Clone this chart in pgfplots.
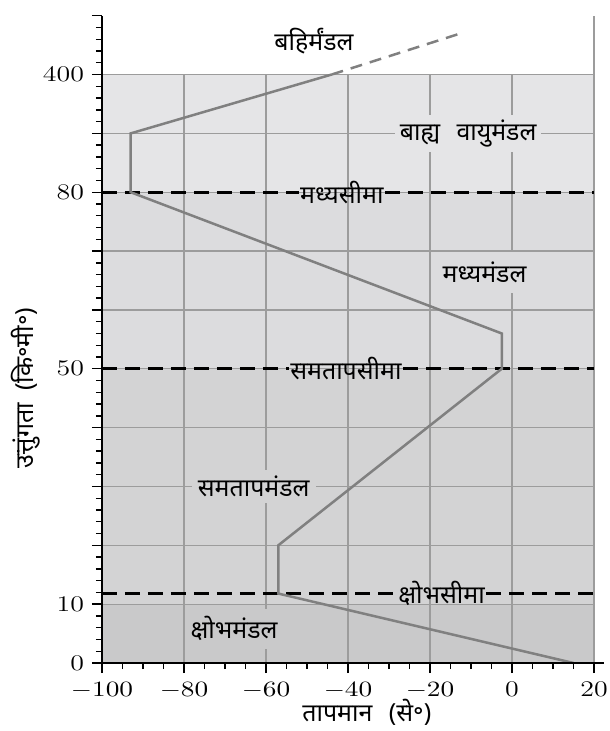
\documentclass[border=0pt]{standalone}
\usepackage{fontspec}
\usepackage{pgfplots}
\pgfplotsset{compat=1.18}
\newfontfamily\dev[Script=Devanagari]{Noto Sans}
\definecolor{bandA}{HTML}{C9C9CA}
\definecolor{bandB}{HTML}{D3D3D4}
\definecolor{bandC}{HTML}{DCDCDE}
\definecolor{bandD}{HTML}{E5E5E7}
\definecolor{gridc}{HTML}{9C9C9C}
\definecolor{linec}{HTML}{808080}
\newcommand{\dfont}{\dev\fontsize{12.5}{14}\selectfont}
\newcommand{\tl}[1]{\scalebox{1.25}[1]{#1}}
\begin{document}
\begin{tikzpicture}
\path[use as bounding box] (-51bp,-34bp) rectangle (254bp,331.5bp);
\begin{axis}[
  at={(0,0)}, anchor=south west,
  scale only axis, width=251.125bp, height=323.65bp,
  xmin=-100, xmax=22.5, ymin=0, ymax=110,
  axis x line=bottom, axis y line=left,
  axis line style={-, line width=0.7bp, black},
  xtick={-100,-80,...,20}, minor x tick num=3,
  xticklabels={\tl{$-100$},\tl{$-80$},\tl{$-60$},\tl{$-40$},\tl{$-20$},\tl{0},\tl{20}},
  ytick={0,10,...,110}, yticklabels={\tl{0},\tl{10},,,,\tl{50},,,\tl{80},,\tl{400},},
  minor y tick num=4,
  tick align=outside,
  major tick length=5bp, minor tick length=3bp,
  every tick/.style={black, line width=0.7bp},
  tick label style={font=\fontsize{11.2}{12}\selectfont},
  xticklabel style={yshift=-1bp},
  yticklabel style={xshift=-0.5bp},
  axis on top,
  clip=false,
]
% bands
\fill[bandA] (axis cs:-100,0) rectangle (axis cs:20,10);
\fill[bandB] (axis cs:-100,10) rectangle (axis cs:20,50);
\fill[bandC] (axis cs:-100,50) rectangle (axis cs:20,80);
\fill[bandD] (axis cs:-100,80) rectangle (axis cs:20,100);
% grid
\draw[gridc, line width=0.6bp] (axis cs:-100,10) -- (axis cs:20,10);
\draw[gridc, line width=0.6bp] (axis cs:-100,20) -- (axis cs:20,20);
\draw[gridc, line width=0.6bp] (axis cs:-100,30) -- (axis cs:20,30);
\draw[gridc, line width=0.6bp] (axis cs:-100,40) -- (axis cs:20,40);
\draw[gridc, line width=0.6bp] (axis cs:-100,50) -- (axis cs:20,50);
\draw[gridc, line width=0.6bp] (axis cs:-100,60) -- (axis cs:20,60);
\draw[gridc, line width=0.6bp] (axis cs:-100,70) -- (axis cs:20,70);
\draw[gridc, line width=0.6bp] (axis cs:-100,80) -- (axis cs:20,80);
\draw[gridc, line width=0.6bp] (axis cs:-100,90) -- (axis cs:20,90);
\draw[gridc, line width=0.6bp] (axis cs:-100,100) -- (axis cs:20,100);
\draw[gridc, line width=0.6bp] (axis cs:-80,0) -- (axis cs:-80,100);
\draw[gridc, line width=0.6bp] (axis cs:-60,0) -- (axis cs:-60,100);
\draw[gridc, line width=0.6bp] (axis cs:-40,0) -- (axis cs:-40,100);
\draw[gridc, line width=0.6bp] (axis cs:-20,0) -- (axis cs:-20,100);
\draw[gridc, line width=0.6bp] (axis cs:0,0) -- (axis cs:0,100);
\draw[gridc, line width=0.6bp] (axis cs:20,0) -- (axis cs:20,110);
% region labels with masks
\node[fill=bandD, inner xsep=2.5bp, inner ysep=2.5bp] at (axis cs:-10.7,90) {\dfont बाह्य\hspace{5bp} वायुमंडल};
\node[fill=bandC, inner xsep=4bp, inner ysep=5bp] at (axis cs:-6.7,66.4) {\dfont मध्यमंडल};
\node[fill=bandB, inner xsep=3bp, inner ysep=3bp] at (axis cs:-63,30) {\dfont समतापमंडल};
\node[fill=bandA, inner xsep=3bp, inner ysep=4bp] at (axis cs:-67.8,5.8) {\dfont क्षोभमंडल};
\node at (axis cs:-48.3,105.6) {\dfont बहिर्मंडल};
% boundaries
\node[inner sep=0.5bp] (b80) at (axis cs:-41.5,80) {\dfont मध्यसीमा};
\node[inner sep=0.5bp] (b50) at (axis cs:-40.5,50) {\dfont समतापसीमा};
\node[inner sep=0.5bp] (b12) at (axis cs:-17.2,11.8) {\dfont क्षोभसीमा};
\begin{scope}[black, line width=1.3bp, dash pattern=on 7.5bp off 4bp]
\draw (axis cs:-100,80) -- (b80.west);
\draw (b80.east) -- (axis cs:20,80);
\draw (axis cs:-100,50) -- (b50.west);
\draw (b50.east) -- (axis cs:20,50);
\draw (axis cs:-100,11.8) -- (b12.west);
\draw (b12.east) -- (axis cs:20,11.8);
\end{scope}
% temperature profile
\addplot[linec, line width=1.25bp, line join=miter] coordinates {
(15,0) (-57,11.8) (-57,20) (-2.5,50) (-2.5,56) (-93,80) (-93,90) (-44,100)
};
\addplot[linec, line width=1.25bp, dash pattern=on 6bp off 4bp] coordinates {
(-44,100) (-12.5,107)
};
% axis labels
\node at (axis cs:-35.4,-8.3) {\dfont तापमान\hspace{5bp} (से॰)};
\node[rotate=90] at (axis cs:-118.5,46.7) {\dfont उत्तुंगता\hspace{3bp} (कि॰मी॰)};
\end{axis}
\end{tikzpicture}
\end{document}
